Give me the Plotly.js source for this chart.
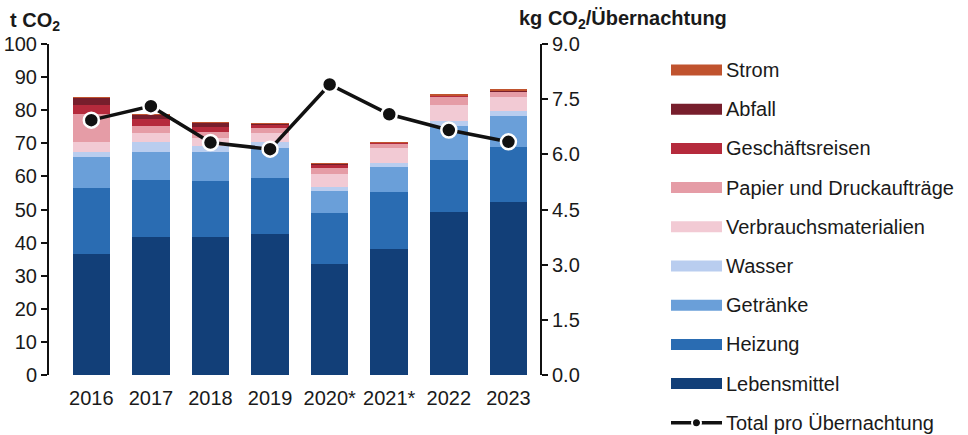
<!DOCTYPE html>
<html>
<head>
<meta charset="utf-8">
<script src="https://cdn.plot.ly/plotly-3.0.1.min.js"></script>
<style>html,body{margin:0;padding:0;background:#fff;}#chart{width:968px;height:435px;}</style>
</head>
<body>
<div id="chart"></div>
<script>
// Categories
const years = ['2016', '2017', '2018', '2019', '2020*', '2021*', '2022', '2023'];

// Series values (t CO2)
const lebensmittel     = [36.6, 41.8, 41.8, 42.6, 33.4, 38.0, 49.1, 52.2];
const heizung          = [19.8, 17.0, 16.9, 16.8, 15.4, 17.4, 15.9, 16.6];
const getraenke        = [ 9.5,  8.7,  8.8,  9.1,  6.9,  7.5, 10.2,  9.4];
const wasser           = [ 1.6,  3.0,  1.8,  2.0,  1.2,  1.3,  1.5,  1.5];
const verbrauch        = [ 3.0,  2.5,  2.2,  2.5,  3.7,  4.3,  4.9,  4.3];
const papier           = [ 8.5,  2.2,  1.8,  1.7,  1.8,  1.3,  2.5,  1.5];
const geschaeftsreisen = [ 2.6,  2.0,  1.7,  0.8,  1.0,  0.2,  0.1,  0.1];
const abfall           = [ 2.0,  1.4,  1.1,  0.3,  0.3,  0.1,  0.1,  0.1];
const strom            = [ 0.3,  0.2,  0.2,  0.2,  0.2,  0.4,  0.6,  0.6];

// kg CO2 per overnight stay
const totalProNacht    = [6.93, 7.31, 6.32, 6.14, 7.90, 7.09, 6.66, 6.34];

// Axis ticks
const leftTicks  = [0, 10, 20, 30, 40, 50, 60, 70, 80, 90, 100];
const rightTicks = [0, 1.5, 3.0, 4.5, 6.0, 7.5, 9.0];

const seriesNames  = ['Lebensmittel', 'Heizung', 'Getränke', 'Wasser', 'Verbrauchsmaterialien',
                      'Papier und Druckaufträge', 'Geschäftsreisen', 'Abfall', 'Strom'];
const seriesValues = [lebensmittel, heizung, getraenke, wasser, verbrauch, papier,
                      geschaeftsreisen, abfall, strom];
const seriesColors = ['#123f78', '#2a6cb2', '#6a9fd9', '#b9cdef', '#f2cad4',
                      '#e59ca6', '#b52a3c', '#771e2c', '#c0532e'];
const lineName = 'Total pro Übernachtung';
const leftTitle = 't CO<sub>2</sub>';
const rightTitle = 'kg CO<sub>2</sub>/Übernachtung';

const FONT = 'Liberation Sans, Arial, sans-serif';
const TXT = '#1a1a1a';
const FS = 20;

const traces = seriesNames.map((n, i) => ({
  type: 'bar', name: n, x: years, y: seriesValues[i],
  marker: {color: seriesColors[i], line: {width: 0}},
  showlegend: false, hoverinfo: 'x+y+name'
}));
traces.push({
  type: 'scatter', mode: 'lines+markers', name: lineName,
  x: years, y: totalProNacht, yaxis: 'y2',
  line: {color: '#111', width: 3.5},
  marker: {color: '#111', size: 15, line: {color: '#fff', width: 2.5}},
  showlegend: false
});

// plot area in pixels
const L = 49, R = 540, T = 44, B = 375;
const px = x => (x - L) / (R - L);
const py = y => (B - y) / (B - T);

// custom legend (top to bottom: Strom ... Lebensmittel, then line)
const shapes = [];
const annotations = [];
const legendOrder = seriesNames.map((n, i) => i).reverse();
const legY0 = 70, legStep = 39.2, swL = 671, swR = 722, txtX = 724;
legendOrder.forEach((si, k) => {
  const yc = legY0 + k * legStep;
  shapes.push({type: 'rect', xref: 'paper', yref: 'paper',
    x0: px(swL), x1: px(swR), y0: py(yc + 5.5), y1: py(yc - 5.5),
    fillcolor: seriesColors[si], line: {width: 0}});
  annotations.push({xref: 'paper', yref: 'paper', x: px(txtX), y: py(yc),
    xanchor: 'left', yanchor: 'middle', showarrow: false, text: seriesNames[si],
    font: {family: FONT, size: FS, color: TXT}});
});
{
  const yc = legY0 + legendOrder.length * legStep;
  shapes.push({type: 'line', xref: 'paper', yref: 'paper',
    x0: px(swL), x1: px(swR), y0: py(yc), y1: py(yc), line: {color: '#111', width: 3.5}});
  shapes.push({type: 'circle', xref: 'paper', yref: 'paper',
    x0: px(692), x1: px(701), y0: py(yc + 4.5), y1: py(yc - 4.5),
    fillcolor: '#111', line: {color: '#fff', width: 2}});
  annotations.push({xref: 'paper', yref: 'paper', x: px(txtX), y: py(yc),
    xanchor: 'left', yanchor: 'middle', showarrow: false, text: lineName,
    font: {family: FONT, size: FS, color: TXT}});
}
// axis titles
annotations.push({xref: 'paper', yref: 'paper', x: px(8), y: py(21),
  xanchor: 'left', yanchor: 'middle', showarrow: false, text: '<b>' + leftTitle + '</b>',
  font: {family: FONT, size: FS, color: TXT}});
annotations.push({xref: 'paper', yref: 'paper', x: px(517), y: py(20),
  xanchor: 'left', yanchor: 'middle', showarrow: false, text: '<b>' + rightTitle + '</b>',
  font: {family: FONT, size: FS, color: TXT}});

const layout = {
  width: 968, height: 435, autosize: false,
  margin: {l: L, r: 968 - R, t: T, b: 435 - B, pad: 0},
  paper_bgcolor: '#fff', plot_bgcolor: '#fff',
  font: {family: FONT, size: FS, color: TXT},
  barmode: 'stack', bargap: 0.37,
  showlegend: false,
  xaxis: {type: 'category', range: [-0.71, 7.53], showline: false, ticks: '',
          ticklabelstandoff: 9,
          showgrid: false, zeroline: false, tickfont: {size: FS, color: TXT}, fixedrange: true},
  yaxis: {range: [0, 100], tickvals: leftTicks, ticktext: leftTicks.map(String),
          showline: true, linecolor: '#111', linewidth: 2, ticks: 'outside', ticklen: 6,
          tickwidth: 2, tickcolor: '#111', showgrid: false, zeroline: false,
          tickfont: {size: FS, color: TXT}},
  yaxis2: {range: [0, 9], overlaying: 'y', side: 'right', anchor: 'x',
           tickvals: rightTicks, ticktext: rightTicks.map(v => v.toFixed(1)),
           showline: true, linecolor: '#111', linewidth: 2, ticks: 'outside', ticklen: 6,
           tickwidth: 2, tickcolor: '#111', showgrid: false, zeroline: false,
           tickfont: {size: FS, color: TXT}},
  shapes: shapes, annotations: annotations
};

Plotly.newPlot('chart', traces, layout, {staticPlot: true, displayModeBar: false});
</script>
</body>
</html>
